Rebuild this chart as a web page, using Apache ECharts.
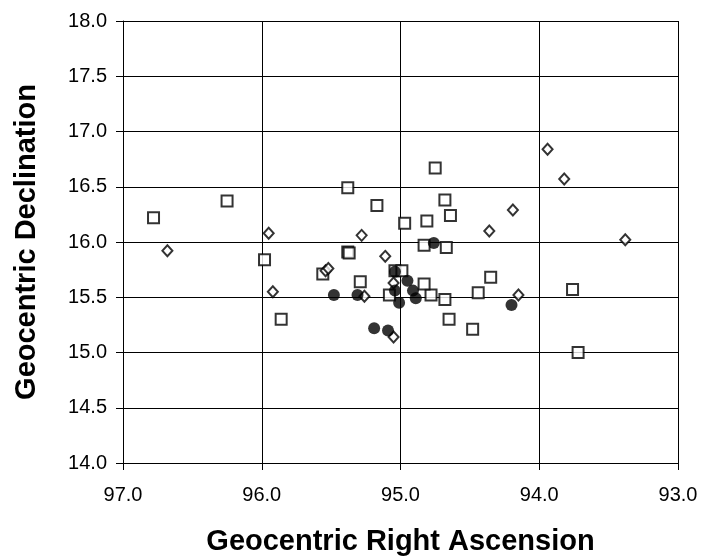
<!DOCTYPE html>
<html>
<head>
    <meta charset="utf-8">
    <title>Geocentric position</title>
    <script src="https://cdn.jsdelivr.net/npm/echarts@6/dist/echarts.min.js"></script>
    <style>
        html, body { margin: 0; padding: 0; background: #fff; }
        #chart { width: 702px; height: 557px; }
    </style>
</head>
<body>
    <div id="chart"></div>
    <script>
        // open squares
        var squareRA  = [96.78, 96.25, 95.38, 95.17, 94.97, 94.75, 94.68, 94.81, 94.64, 94.83,
                         94.67, 94.35, 94.44, 93.76, 93.72, 94.65, 94.48, 94.68, 94.78, 94.83,
                         95.04, 94.99, 95.98, 95.86, 95.38, 95.37, 95.56, 95.29, 95.08];
        var squareDec = [16.22, 16.37, 16.49, 16.33, 16.17, 16.67, 16.38, 16.19, 16.24, 15.97,
                         15.95, 15.68, 15.54, 15.57, 15.00, 15.30, 15.21, 15.48, 15.52, 15.62,
                         15.74, 15.74, 15.84, 15.30, 15.91, 15.90, 15.71, 15.64, 15.52];

        // open diamonds
        var diamondRA  = [95.95, 95.28, 96.68, 93.94, 93.82, 94.19, 94.36, 93.38, 95.92, 95.11,
                          95.54, 95.52, 95.26, 95.05, 95.05, 94.15];
        var diamondDec = [16.08, 16.06, 15.92, 16.84, 16.57, 16.29, 16.10, 16.02, 15.55, 15.87,
                          15.74, 15.76, 15.51, 15.14, 15.63, 15.52];

        // filled circles
        var circleRA  = [94.76, 94.95, 95.04, 94.91, 94.89, 95.01, 94.20, 95.09, 95.48, 95.31,
                         95.19, 95.04];
        var circleDec = [15.99, 15.65, 15.56, 15.56, 15.49, 15.45, 15.43, 15.20, 15.52, 15.52,
                         15.22, 15.73];

        var xTicks = [93, 94, 95, 96, 97];

        function pairs(xs, ys) {
            var out = [];
            for (var i = 0; i < xs.length; i++) out.push([xs[i], ys[i]]);
            return out;
        }

        var chart = echarts.init(document.getElementById('chart'), null, {renderer: 'canvas'});
        var font = 'Liberation Sans, Arial, sans-serif';

        var option = {
            animation: false,
            grid: { left: 123, right: 24, top: 21, bottom: 94, containLabel: false, outerBoundsMode: 'none' },
            xAxis: {
                type: 'value',
                inverse: true,
                min: xTicks[0],
                max: xTicks[xTicks.length - 1],
                interval: 1,
                name: 'Geocentric Right Ascension',
                nameLocation: 'middle',
                nameGap: 64,
                nameTextStyle: { fontFamily: font, fontSize: 29, fontWeight: 'bold', color: '#000' },
                axisLine: { show: true, onZero: false, lineStyle: { color: '#000', width: 1 } },
                axisTick: { show: true, inside: false, length: 7, lineStyle: { color: '#000' } },
                axisLabel: {
                    fontFamily: font, fontSize: 20, color: '#000', margin: 22,
                    formatter: function (v) { return v.toFixed(1); }
                },
                splitLine: { show: true, lineStyle: { color: '#000', width: 1 } }
            },
            yAxis: {
                type: 'value',
                min: 14,
                max: 18,
                interval: 0.5,
                name: 'Geocentric Declination',
                nameLocation: 'middle',
                nameGap: 82,
                nameTextStyle: { fontFamily: font, fontSize: 29, fontWeight: 'bold', color: '#000' },
                axisLine: { show: true, onZero: false, lineStyle: { color: '#000', width: 1 } },
                axisTick: { show: true, inside: false, length: 7, lineStyle: { color: '#000' } },
                axisLabel: {
                    fontFamily: font, fontSize: 20, color: '#000', margin: 16,
                    formatter: function (v) { return v.toFixed(1); }
                },
                splitLine: { show: true, lineStyle: { color: '#000', width: 1 } }
            },
            series: [
                {
                    name: 'squares',
                    type: 'scatter',
                    symbol: 'rect',
                    symbolSize: 11,
                    itemStyle: { color: '#fff', borderColor: '#000', borderWidth: 2 },
                    data: pairs(squareRA, squareDec)
                },
                {
                    name: 'diamonds',
                    type: 'scatter',
                    symbol: 'diamond',
                    symbolSize: [10, 11],
                    itemStyle: { color: '#fff', borderColor: '#000', borderWidth: 2 },
                    data: pairs(diamondRA, diamondDec)
                },
                {
                    name: 'circles',
                    type: 'scatter',
                    symbol: 'circle',
                    symbolSize: 12,
                    itemStyle: { color: '#000' },
                    data: pairs(circleRA, circleDec)
                }
            ]
        };

        chart.setOption(option);
    </script>
</body>
</html>
